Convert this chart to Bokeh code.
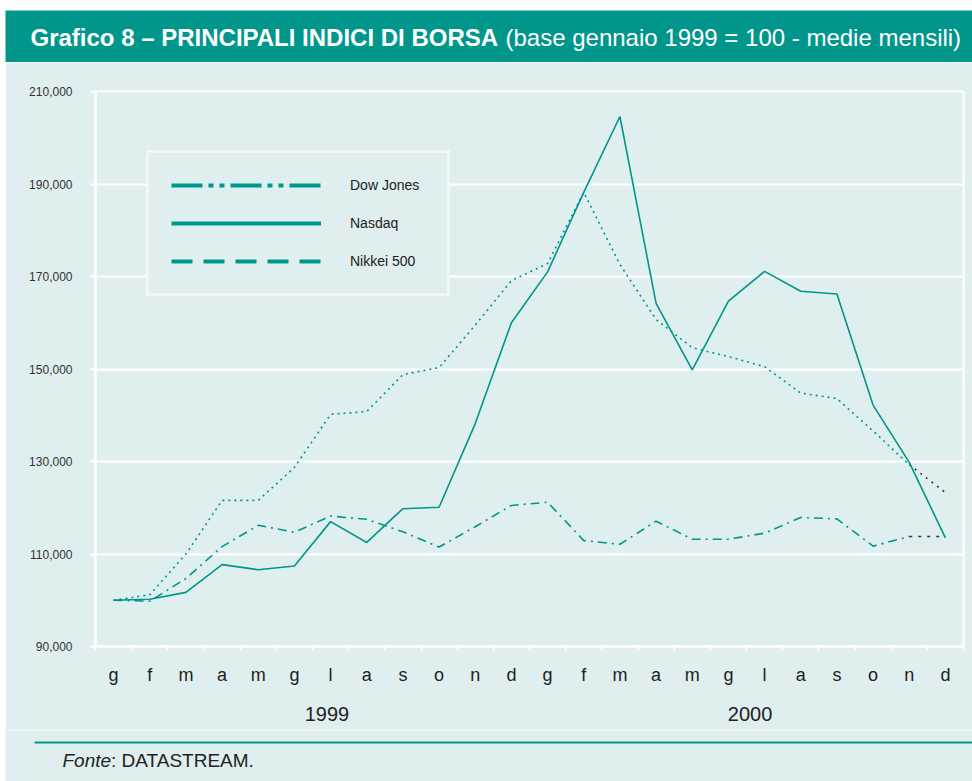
from bokeh.plotting import figure
from bokeh.layouts import column, row
from bokeh.models import (FixedTicker, LinearAxis, Legend, LegendItem, Label,
                          BoxAnnotation, Range1d, Spacer)
from bokeh.embed import file_html
from bokeh.resources import INLINE

# ---- data -------------------------------------------------------------
months = ["g", "f", "m", "a", "m", "g", "l", "a", "s", "o", "n", "d",
          "g", "f", "m", "a", "m", "g", "l", "a", "s", "o", "n", "d"]
years = ["1999", "2000"]
y_ticks = [90, 110, 130, 150, 170, 190, 210]
y_tick_labels = ["90,000", "110,000", "130,000", "150,000",
                 "170,000", "190,000", "210,000"]

dow_jones = [100.0, 99.8, 104.7, 111.6, 116.2, 114.7, 118.2, 117.5, 114.8, 111.5,
             115.9, 120.5, 121.2, 112.9, 112.1, 117.1, 113.2, 113.2, 114.5, 117.9,
             117.6, 111.7, 113.8, 113.8]
nasdaq = [100.0, 100.2, 101.7, 107.7, 106.6, 107.4, 117.0, 112.5, 119.8, 120.1,
          138.2, 160.0, 171.0, 188.2, 204.6, 164.2, 149.8, 164.7, 171.1, 166.8,
          166.2, 142.2, 129.8, 113.5]
nikkei_500 = [100.0, 101.2, 110.0, 121.6, 121.6, 128.7, 140.2, 140.8, 148.8, 150.3,
              159.5, 169.1, 172.8, 188.2, 172.6, 160.7, 154.6, 152.7, 150.5, 144.8,
              143.6, 136.6, 129.3, 123.3]
series_names = ["Dow Jones", "Nasdaq", "Nikkei 500"]

title_bold = "Grafico 8 \u2013 PRINCIPALI INDICI DI BORSA"
title_rest = "(base gennaio 1999 = 100 - medie mensili)"
source_lead = "Fonte"
source_rest = ": DATASTREAM."

# ---- style ------------------------------------------------------------
TEAL = "#00968c"
BG = "#dfeeee"
DARK = "#333333"
TXT = "#222222"
FONT = "Liberation Sans"
W = 967           # width of the coloured panel (page starts with a 5px white strip)
H_TOP, H_TITLE, H_MAIN, H_FOOT = 10, 52, 668, 51


def blank_fig(h, bg):
    f = figure(width=W, height=h, output_backend="svg", toolbar_location=None,
               x_range=Range1d(0, W), y_range=Range1d(h, 0),
               x_axis_location=None, y_axis_location=None,
               min_border=0, min_border_left=0, min_border_right=0,
               min_border_top=0, min_border_bottom=0,
               background_fill_color=bg, border_fill_color=bg,
               outline_line_color=None)
    f.grid.visible = False
    return f


# ---- title band -----------------------------------------------------------
t = blank_fig(H_TITLE, TEAL)
t.add_layout(Label(x=25, y=27, text=title_bold, text_font=FONT,
                   text_font_style="bold", text_font_size="24px",
                   text_color="white", text_baseline="middle"))
t.add_layout(Label(x=500, y=27, text=title_rest, text_font=FONT,
                   text_font_size="24px", text_color="white",
                   text_baseline="middle"))

# ---- main chart -------------------------------------------------------------
x = list(range(len(months)))
n = len(months)

p = figure(width=W, height=H_MAIN, output_backend="svg", toolbar_location=None,
           x_range=Range1d(-0.5, n - 0.5), y_range=Range1d(y_ticks[0], y_ticks[-1]),
           min_border_left=90, min_border_right=9, min_border_top=29,
           min_border_bottom=84,
           background_fill_color=BG, border_fill_color=BG,
           outline_line_color="white", outline_line_width=2)

yax = p.yaxis[0]
yax.ticker = FixedTicker(ticks=y_ticks)
yax.major_label_overrides = dict(zip(y_ticks, y_tick_labels))
yax.axis_line_color = "white"
yax.axis_line_width = 2
yax.major_tick_line_color = "white"
yax.major_tick_line_width = 2
yax.major_tick_out = 5
yax.major_tick_in = 0
yax.minor_tick_line_color = None
yax.major_label_standoff = 18
yax.major_label_text_font = FONT
yax.major_label_text_font_size = "12px"
yax.major_label_text_color = DARK

p.ygrid.ticker = FixedTicker(ticks=y_ticks)
p.ygrid.grid_line_color = "white"
p.ygrid.grid_line_width = 2
p.xgrid.grid_line_color = None

xax = p.xaxis[0]
xax.ticker = FixedTicker(ticks=x, minor_ticks=[i - 0.5 for i in range(n + 1)])
xax.major_label_overrides = {i: m for i, m in zip(x, months)}
xax.axis_line_color = "white"
xax.axis_line_width = 2
xax.major_tick_line_color = None
xax.major_tick_out = 0
xax.major_tick_in = 0
xax.minor_tick_line_color = "white"
xax.minor_tick_line_width = 1.5
xax.minor_tick_out = 4
xax.minor_tick_in = 0
xax.major_label_standoff = 14
xax.major_label_text_font = FONT
xax.major_label_text_font_size = "18px"
xax.major_label_text_color = TXT

year_pos = [5.9, 17.6]
yr_ax = LinearAxis(ticker=FixedTicker(ticks=year_pos),
                   major_label_overrides=dict(zip(year_pos, years)))
yr_ax.axis_line_color = None
yr_ax.major_tick_line_color = None
yr_ax.minor_tick_line_color = None
yr_ax.major_label_standoff = 13
yr_ax.major_label_text_font = FONT
yr_ax.major_label_text_font_size = "20px"
yr_ax.major_label_text_color = TXT
p.add_layout(yr_ax, "below")

last = n - 2
p.line(x[:last + 1], nikkei_500[:last + 1], line_color=TEAL, line_width=1.6,
       line_dash="2 4")
p.line(x[last:], nikkei_500[last:], line_color=DARK, line_width=1.6, line_dash="2 5")
p.line(x[:last + 1], dow_jones[:last + 1], line_color=TEAL, line_width=1.6,
       line_dash="9 5 2 5")
p.line(x[last:], dow_jones[last:], line_color=DARK, line_width=1.6, line_dash="3 6")
p.line(x, nasdaq, line_color=TEAL, line_width=1.6)

# legend swatches: hidden renderers of the same series, styled like the key
r_dj = p.line(x, dow_jones, line_color=TEAL, line_width=4,
              line_dash="31 6 5 6 5 6", visible=False)
r_nq = p.line(x, nasdaq, line_color=TEAL, line_width=4, visible=False)
r_nk = p.line(x, nikkei_500, line_color=TEAL, line_width=4, line_dash="21 11",
              visible=False)
legend = Legend(items=[LegendItem(label=series_names[0], renderers=[r_dj]),
                       LegendItem(label=series_names[1], renderers=[r_nq]),
                       LegendItem(label=series_names[2], renderers=[r_nk])],
                location=(51, 350), orientation="vertical",
                glyph_width=150, glyph_height=20, label_standoff=29,
                label_width=75, spacing=18, padding=22, margin=0,
                border_line_color="white", border_line_width=3,
                background_fill_color=BG, background_fill_alpha=1,
                label_text_font=FONT, label_text_font_size="14px",
                label_text_color=TXT)
p.add_layout(legend)

# ---- footer -------------------------------------------------------------------
f = blank_fig(H_FOOT, BG)
f.add_layout(BoxAnnotation(left=29, right=W, top=11, bottom=13,
                           fill_color=TEAL, fill_alpha=1, line_color=None))
f.add_layout(Label(x=57, y=30, text=source_lead, text_font=FONT,
                   text_font_style="italic", text_font_size="19px",
                   text_color=TXT, text_baseline="middle"))
f.add_layout(Label(x=105.5, y=30, text=source_rest, text_font=FONT,
                   text_font_size="19px", text_color=TXT,
                   text_baseline="middle"))

stack = column(Spacer(width=W, height=H_TOP), row(t), p, row(f), spacing=0)
page = row(Spacer(width=5, height=H_TOP + H_TITLE + H_MAIN + H_FOOT), stack,
           spacing=0)

open("out.html", "w").write(file_html(page, INLINE))
